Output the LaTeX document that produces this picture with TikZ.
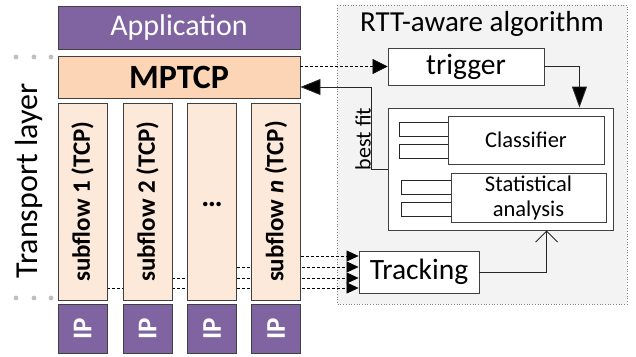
\documentclass[tikz,border=0pt]{standalone}
\usepackage{fontspec}
\usepackage{graphicx}
\setmainfont{Carlito}
\usetikzlibrary{arrows.meta,calc,backgrounds}
\definecolor{appPurple}{HTML}{8064A2}
\definecolor{mpPeach}{HTML}{FBD5B5}
\definecolor{sfPeach}{HTML}{FDE9D9}
\definecolor{bord}{HTML}{404040}
\definecolor{rttbg}{HTML}{F3F3F3}
\definecolor{dotgray}{HTML}{BFBFBF}
\newcommand\fsz[2]{\fontsize{#1}{#2}\selectfont}
\begin{document}
\begin{tikzpicture}[x=1pt,y=-1pt,
  basebox/.style={draw=bord, line width=0.9pt, inner sep=0pt, rectangle},
  purplebox/.style={basebox, fill=appPurple, text=white},
  sfbox/.style={basebox, fill=sfPeach, minimum width=49, minimum height=197},
  ipbox/.style={purplebox, minimum width=49, minimum height=49},
  whitebox/.style={basebox, fill=white},
  conn/.style={draw=black!85, line width=0.9pt},
  dashconn/.style={draw=black, line width=0.6pt, dash pattern=on 3pt off 2pt},
  bigtip/.style={-{Triangle[length=#1,width=15pt,fill=black]}}]
\useasboundingbox (0,0) rectangle (636,356);

% left dots
\foreach \xx in {16,34,51}{
  \fill[dotgray] (\xx,57) circle (2.4pt);
  \fill[dotgray] (\xx,298) circle (2.4pt);
}
\node[inner sep=0pt] (tl) at (29,181) {\rotatebox{90}{\fsz{32}{36}Transport layer}};

% left stack
\node[purplebox, minimum width=242, minimum height=43, font=\fsz{30}{34}] (app) at (179,27.5) {Application};
\node[basebox, fill=mpPeach, minimum width=242, minimum height=42, font=\fsz{34}{38}\bfseries] (mp) at (179,77) {MPTCP};
\node[sfbox] (s1) at (82.5,201.5) {\rotatebox{90}{\fsz{25}{30}\bfseries subflow 1 (TCP)}};
\node[sfbox] (s2) at (147.5,201.5) {\rotatebox{90}{\fsz{25}{30}\bfseries subflow 2 (TCP)}};
\node[sfbox] (s3) at (212,201.5) {};
\node[inner sep=0pt, font=\fsz{30}{34}\bfseries] (dots) at (212,204) {\ldots};
\node[sfbox] (s4) at (276,201.5) {\rotatebox{90}{\fsz{25}{30}\bfseries subflow \textit{n} (TCP)}};
\node[ipbox] (ip1) at (82.5,328.5) {\rotatebox{90}{\fsz{27}{30}\bfseries IP}};
\node[ipbox] (ip2) at (147.5,328.5) {\rotatebox{90}{\fsz{27}{30}\bfseries IP}};
\node[ipbox] (ip3) at (212,328.5) {\rotatebox{90}{\fsz{27}{30}\bfseries IP}};
\node[ipbox] (ip4) at (276,328.5) {\rotatebox{90}{\fsz{27}{30}\bfseries IP}};

% right part
\node[inner sep=0pt, font=\fsz{29}{34}] (title) at (482,24) {RTT-aware algorithm};
\node[whitebox, minimum width=156, minimum height=37, font=\fsz{29.5}{34}] (trig) at (466,66.5) {trigger};
\node[whitebox, minimum width=225, minimum height=122] (big) at (500.5,169) {};
\draw[conn, fill=white] (399,122) rectangle (448,136);
\draw[conn, fill=white] (399,144) rectangle (448,158);
\draw[conn, fill=white] (401,180) rectangle (451,194);
\draw[conn, fill=white] (401,202) rectangle (451,216);
\node[whitebox, minimum width=156, minimum height=48, font=\fsz{22.5}{26}] (cls) at (526,140) {Classifier};
\node[whitebox, minimum width=155, minimum height=49, align=center, font=\fsz{22.5}{25}] (stat) at (528.5,197.5) {Statistical\\analysis};
\node[whitebox, minimum width=120, minimum height=42, font=\fsz{29.5}{34}] (trk) at (419,272) {Tracking};

% background layer: RTT area and dashed lines behind subflows
\begin{pgfonlayer}{background}
  \draw[fill=rttbg, draw=gray, line width=0.7pt, dotted] (337,5) rectangle (627,304);
  \coordinate (t1) at ($(trk.west)+(0,16)$);
  \coordinate (t2) at ($(trk.west)+(0,6)$);
  \coordinate (t3) at ($(trk.west)+(0,-5)$);
  \coordinate (t4) at ($(trk.west)+(0,-16)$);
  \foreach \s/\t in {s1/t1,s2/t2,s3/t3,s4/t4}{
    \draw[dashconn, -{Triangle[length=12pt,width=11pt,fill=black]}] (\s.east |- \t) -- (\t);
  }
\end{pgfonlayer}

% connectors
\draw[dashconn, -{Triangle[length=15pt,width=15pt,fill=black]}] (trig.west -| mp.east) -- (trig.west);
\draw[conn, -{Triangle[length=21pt,width=15pt,fill=black]}] (trig.east) -| ($(big.north east)+(-34,0)$);
\draw[conn, -{Triangle[length=20pt,width=16pt,fill=black]}] (big.west) -- ++(-16,0) |- ([yshift=-10pt]mp.east);
\node[inner sep=0pt, font=\fsz{22}{26}] (bf) at (363,139) {\rotatebox{90}{best fit}};
\draw[conn, -{Straight Barb[length=11pt,width=22pt]}] (trk.east) -| ($(big.south west)+(159,0)$);
\end{tikzpicture}
\end{document}
